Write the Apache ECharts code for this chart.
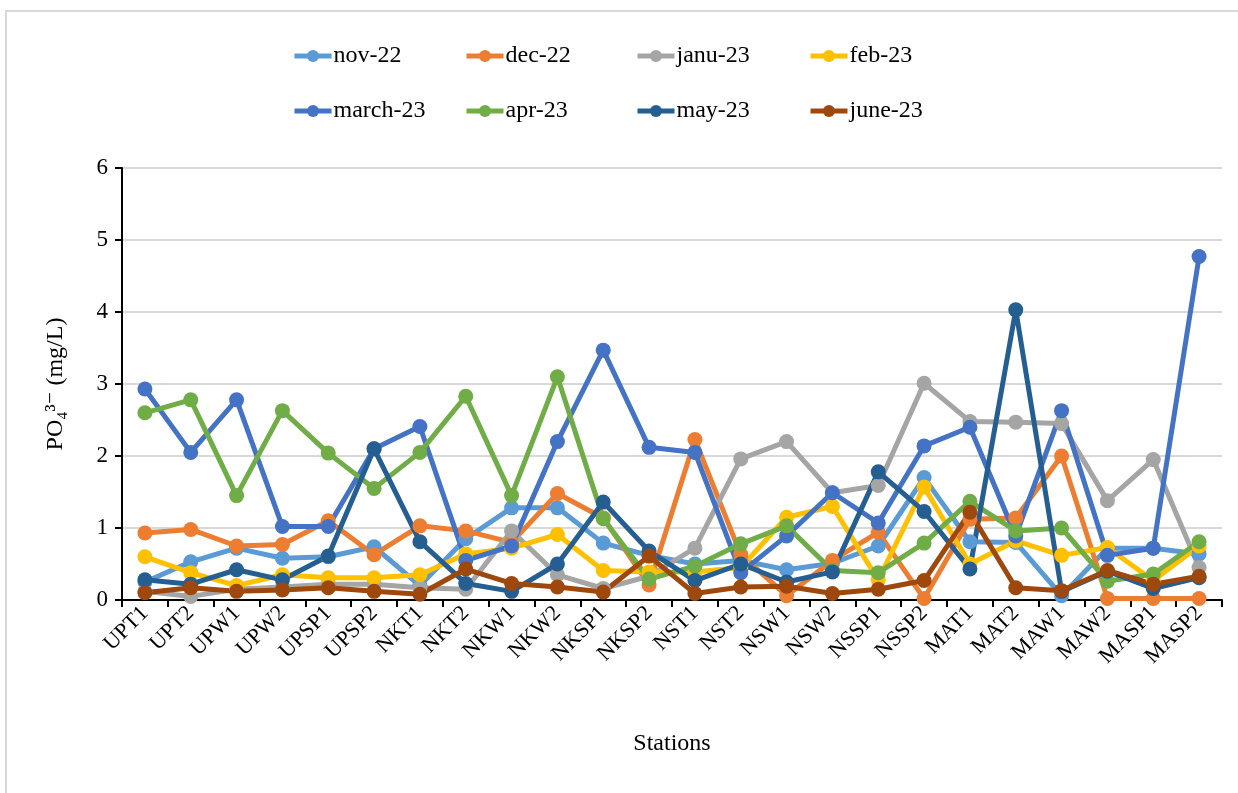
<!DOCTYPE html>
<html>
<head>
<meta charset="utf-8">
<script src="https://cdn.jsdelivr.net/npm/echarts@6/dist/echarts.min.js"></script>
<style>
  html, body { margin: 0; padding: 0; background: #ffffff; }
  #chart { width: 1238px; height: 793px; }
</style>
</head>
<body>
<div id="chart"></div>
<script>
// Phosphate (PO4 3-) concentration per sampling station, Nov 2022 – June 2023
const stations = ['UPT1','UPT2','UPW1','UPW2','UPSP1','UPSP2','NKT1','NKT2','NKW1','NKW2','NKSP1','NKSP2',
                  'NST1','NST2','NSW1','NSW2','NSSP1','NSSP2','MAT1','MAT2','MAW1','MAW2','MASP1','MASP2'];

const nov22   = [0.25,0.53,0.72,0.58,0.60,0.74,0.20,0.85,1.28,1.28,0.79,0.62,0.50,0.55,0.42,0.51,0.75,1.70,0.81,0.80,0.06,0.72,0.72,0.64];
const dec22   = [0.93,0.98,0.75,0.77,1.10,0.63,1.03,0.96,0.80,1.48,1.14,0.21,2.23,0.63,0.06,0.55,0.94,0.02,1.12,1.14,2.00,0.02,0.02,0.02];
const janu23  = [0.12,0.05,0.15,0.18,0.22,0.22,0.17,0.15,0.96,0.35,0.16,0.33,0.72,1.96,2.20,1.49,1.59,3.01,2.48,2.47,2.45,1.38,1.95,0.45];
const feb23   = [0.60,0.38,0.20,0.35,0.31,0.31,0.35,0.64,0.72,0.91,0.41,0.39,0.39,0.45,1.15,1.30,0.28,1.57,0.50,0.82,0.62,0.73,0.27,0.75];
const march23 = [2.93,2.05,2.78,1.02,1.02,2.10,2.41,0.55,0.75,2.20,3.47,2.12,2.05,0.38,0.89,1.49,1.07,2.14,2.40,0.89,2.63,0.62,0.72,4.77];
const apr23   = [2.60,2.78,1.45,2.63,2.04,1.55,2.05,2.83,1.45,3.10,1.13,0.29,0.47,0.78,1.03,0.41,0.38,0.79,1.37,0.96,1.00,0.26,0.36,0.81];
const may23   = [0.28,0.22,0.42,0.28,0.61,2.10,0.81,0.23,0.12,0.50,1.36,0.68,0.27,0.50,0.25,0.39,1.78,1.23,0.43,4.03,0.12,0.40,0.16,0.31];
const june23  = [0.10,0.17,0.12,0.14,0.17,0.12,0.08,0.43,0.23,0.18,0.11,0.61,0.09,0.18,0.19,0.09,0.15,0.27,1.22,0.17,0.13,0.41,0.22,0.33];

const yTicks = [0, 1, 2, 3, 4, 5, 6];

const seriesDefs = [
  { name: 'nov-22',   data: nov22,   color: '#5B9BD5' },
  { name: 'dec-22',   data: dec22,   color: '#ED7D31' },
  { name: 'janu-23',  data: janu23,  color: '#A5A5A5' },
  { name: 'feb-23',   data: feb23,   color: '#FFC000' },
  { name: 'march-23', data: march23, color: '#4472C4' },
  { name: 'apr-23',   data: apr23,   color: '#70AD47' },
  { name: 'may-23',   data: may23,   color: '#255E91' },
  { name: 'june-23',  data: june23,  color: '#9E480E' }
];

const serif = '"Liberation Serif", "DejaVu Serif", serif';

// Legend laid out as a 4-column grid: one legend component per entry
const legendCols = [292, 464, 635, 808];
const legendRows = [44, 99];
const legends = seriesDefs.map((s, i) => ({
  left: legendCols[i % 4],
  top: legendRows[Math.floor(i / 4)],
  data: [s.name],
  itemWidth: 37,
  itemHeight: 15,
  itemGap: 0,
  lineStyle: { width: 5 },
  textStyle: { fontFamily: serif, fontSize: 24, color: '#000', padding: [0, 0, 0, -3] },
  selectedMode: false,
  padding: 0
}));

const chart = echarts.init(document.getElementById('chart'), null, { renderer: 'canvas' });

chart.setOption({
  backgroundColor: '#ffffff',
  animation: false,
  graphic: [{
    type: 'rect',
    shape: { x: 6, y: 11, width: 1240, height: 800 },
    style: { fill: 'none', stroke: '#D9D9D9', lineWidth: 2 },
    silent: true,
    z: -1
  }],
  legend: legends,
  grid: { left: 122, right: 16, top: 168, bottom: 193, containLabel: false },
  xAxis: {
    type: 'category',
    data: stations,
    boundaryGap: true,
    name: 'Stations',
    nameLocation: 'middle',
    nameGap: 132,
    nameTextStyle: { fontFamily: serif, fontSize: 24, color: '#000' },
    axisLine: { lineStyle: { color: '#000', width: 2 } },
    axisTick: { show: true, alignWithLabel: false, length: 7, lineStyle: { color: '#000', width: 2 } },
    axisLabel: {
      rotate: 45,
      interval: 0,
      margin: 10,
      fontFamily: serif,
      fontSize: 22,
      color: '#000'
    },
    splitLine: { show: false }
  },
  yAxis: {
    type: 'value',
    min: yTicks[0],
    max: yTicks[yTicks.length - 1],
    interval: 1,
    name: 'PO₄³⁻ (mg/L)',
    nameLocation: 'middle',
    nameGap: 54,
    nameRotate: 90,
    nameTextStyle: { fontFamily: serif, fontSize: 24, color: '#000' },
    axisLine: { show: true, lineStyle: { color: '#000', width: 2 } },
    axisTick: { show: true, length: 7, lineStyle: { color: '#000', width: 2 } },
    axisLabel: { fontFamily: serif, fontSize: 23, color: '#000', margin: 14 },
    splitLine: { show: true, lineStyle: { color: '#D9D9D9', width: 2 } }
  },
  series: seriesDefs.map(s => ({
    name: s.name,
    type: 'line',
    data: s.data,
    symbol: 'circle',
    symbolSize: 15,
    showSymbol: true,
    lineStyle: { width: 5, color: s.color },
    itemStyle: { color: s.color, borderWidth: 0 },
    emphasis: { disabled: true }
  }))
});
</script>
</body>
</html>
